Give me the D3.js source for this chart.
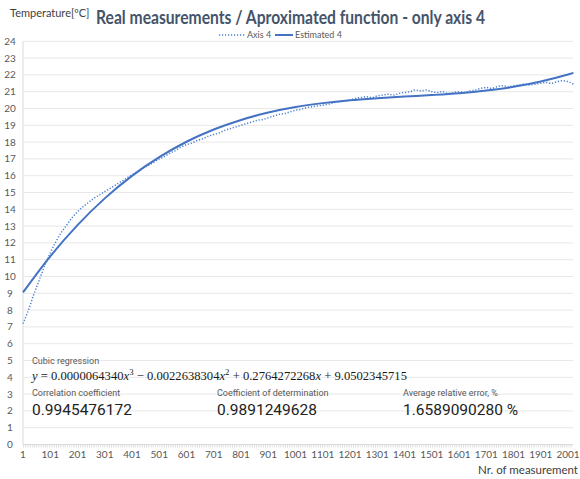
<!DOCTYPE html>
<html>
<head>
<meta charset="utf-8">
<script src="https://cdn.jsdelivr.net/npm/d3@7"></script>
<style>
  html, body { margin: 0; padding: 0; background: #fff; }
  svg { display: block; }
</style>
</head>
<body>
<svg id="chart" width="580" height="479"></svg>
<script>
// Measurement numbers sampled every 20 readings
const measuredNr = d3.range(1, 2022, 20);
// Axis 4 temperature readings [ºC]
const measuredTemp = [
  7.20, 8.00, 8.95, 9.80, 10.65, 11.40, 12.05, 12.60, 13.05, 13.50,
  13.85, 14.15, 14.40, 14.65, 14.85, 15.05, 15.25, 15.45, 15.65, 15.85,
  16.05, 16.25, 16.45, 16.60, 16.80, 17.00, 17.15, 17.35, 17.50, 17.70,
  17.85, 17.95, 18.10, 18.20, 18.35, 18.45, 18.55, 18.70, 18.80, 18.90,
  19.00, 19.10, 19.20, 19.30, 19.35, 19.45, 19.55, 19.65, 19.70, 19.80,
  19.90, 19.95, 20.05, 20.10, 20.15, 20.20, 20.25, 20.35, 20.40, 20.45,
  20.50, 20.60, 20.65, 20.70, 20.65, 20.75, 20.80, 20.85, 20.80, 20.90,
  20.95, 21.00, 21.10, 21.05, 21.10, 21.00, 20.95, 21.00, 20.90, 20.95,
  21.00, 20.95, 21.05, 21.10, 21.20, 21.25, 21.20, 21.30, 21.35, 21.30,
  21.35, 21.40, 21.45, 21.40, 21.45, 21.50, 21.55, 21.50, 21.60, 21.65,
  21.60, 21.45
];

// Estimated 4 (cubic regression curve)
const estimatedNr = [1, 101, 201, 301, 401, 501, 601, 701, 801, 901, 1001,
  1101, 1201, 1301, 1401, 1501, 1601, 1701, 1801, 1901, 2001, 2021];
const estimatedTemp = [9.05, 11.20, 13.06, 14.65, 15.99, 17.10, 18.02, 18.75,
  19.32, 19.76, 20.09, 20.32, 20.49, 20.61, 20.71, 20.80, 20.91, 21.07, 21.29,
  21.61, 22.02, 22.12];

const yTicks = d3.range(0, 25, 1);
const xTickLabels = d3.range(1, 2002, 100);

const statLabels = ["Correlation coefficient", "Coefficient of determination", "Average relative error, %"];
const statValues = ["0.9945476172", "0.9891249628", "1.6589090280 %"];

const svg = d3.select("#chart");
const plotLeft = 23, plotRight = 573, plotTop = 41.3, plotBottom = 444.5;
const uiFont = "Lato, 'Open Sans', sans-serif";

const x = d3.scaleLinear().domain([1, 2001]).range([plotLeft, 568]);
const y = d3.scaleLinear().domain([0, 24]).range([plotBottom, plotTop]);

// horizontal gridlines
svg.append("g").selectAll("line").data(yTicks.filter(d => d > 0)).join("line")
  .attr("x1", plotLeft).attr("x2", plotRight)
  .attr("y1", d => y(d)).attr("y2", d => y(d))
  .attr("stroke", "#e8e8e8").attr("stroke-width", 1);

// vertical axis line
svg.append("line").attr("x1", plotLeft).attr("x2", plotLeft).attr("y1", plotTop).attr("y2", plotBottom)
  .attr("stroke", "#d9d9d9").attr("stroke-width", 1);

// category axis with dense tick marks
svg.append("line").attr("x1", plotLeft).attr("x2", plotRight).attr("y1", plotBottom).attr("y2", plotBottom)
  .attr("stroke", "#d9d9d9").attr("stroke-width", 1);
svg.append("line").attr("x1", plotLeft).attr("x2", plotRight).attr("y1", plotBottom + 1.5).attr("y2", plotBottom + 1.5)
  .attr("stroke", "#dedede").attr("stroke-width", 3).attr("stroke-dasharray", "1,1.2");

// y tick labels
svg.append("g").selectAll("text").data(yTicks).join("text")
  .attr("x", 10).attr("y", d => y(d) + 3.5)
  .attr("text-anchor", "middle")
  .attr("font-family", uiFont).attr("font-size", 10)
  .attr("fill", "#595959")
  .text(d => d);

// x tick labels
svg.append("g").selectAll("text").data(xTickLabels).join("text")
  .attr("x", d => x(d)).attr("y", 457.5)
  .attr("text-anchor", "middle")
  .attr("font-family", uiFont).attr("font-size", 10)
  .attr("fill", "#595959")
  .text(d => d);

// axis titles
svg.append("text").attr("x", 10).attr("y", 17)
  .attr("font-family", uiFont).attr("font-size", 11)
  .attr("fill", "#404040").text("Temperature[ºC]");
svg.append("text").attr("x", 578).attr("y", 474).attr("text-anchor", "end")
  .attr("font-family", uiFont).attr("font-size", 11.5)
  .attr("fill", "#404040").text("Nr. of measurement");

// chart title
svg.append("text").attr("x", 96).attr("y", 24)
  .attr("font-family", uiFont).attr("font-weight", 700).attr("font-size", 18.5)
  .attr("textLength", 389).attr("lengthAdjust", "spacingAndGlyphs")
  .attr("fill", "#44546a").text("Real measurements / Aproximated function - only axis 4");

// legend
const lg = svg.append("g").attr("font-family", uiFont).attr("font-size", 9).attr("fill", "#595959");
lg.append("line").attr("x1", 219).attr("x2", 245).attr("y1", 35).attr("y2", 35)
  .attr("stroke", "#4a7fd0").attr("stroke-width", 1.5).attr("stroke-dasharray", "1.2,1.8");
lg.append("text").attr("x", 247).attr("y", 38).text("Axis 4");
lg.append("line").attr("x1", 275).attr("x2", 293).attr("y1", 35).attr("y2", 35)
  .attr("stroke", "#4472c4").attr("stroke-width", 2);
lg.append("text").attr("x", 295).attr("y", 38).text("Estimated 4");

// series lines
const lineGen = d3.line().x(d => x(d[0])).y(d => y(d[1])).curve(d3.curveMonotoneX);
svg.append("path")
  .datum(measuredNr.map((n, i) => [n, measuredTemp[i]]))
  .attr("d", lineGen).attr("fill", "none")
  .attr("stroke", "#4a7fd0").attr("stroke-width", 1.5).attr("stroke-dasharray", "1.2,1.8");
svg.append("path")
  .datum(estimatedNr.map((n, i) => [n, estimatedTemp[i]]))
  .attr("d", lineGen).attr("fill", "none")
  .attr("stroke", "#4472c4").attr("stroke-width", 2);

// regression summary
const info = svg.append("g").attr("font-family", "Roboto, 'Open Sans', sans-serif");
info.append("text").attr("x", 32).attr("y", 364).attr("font-size", 9).attr("fill", "#595959")
  .text("Cubic regression");

const eq = info.append("text").attr("x", 32).attr("y", 379.5)
  .attr("font-family", "'Liberation Serif', 'DejaVu Serif', serif").attr("font-size", 15)
  .attr("fill", "#1a1a1a");
const eqParts = [
  ["y", "i"], [" = 0.0000064340", ""], ["x", "i"], ["3", "s"],
  [" − 0.0022638304", ""], ["x", "i"], ["2", "s"],
  [" + 0.2764272268", ""], ["x", "i"], [" + 9.0502345715", ""]
];
let raised = false;
eqParts.forEach(([t, k]) => {
  const ts = eq.append("tspan").text(t);
  if (k === "i") ts.attr("font-style", "italic");
  if (k === "s") { ts.attr("font-size", "0.7em").attr("dy", -5); raised = true; }
  else if (raised) { ts.attr("dy", 5); raised = false; }
});
// scale the equation's font so it spans the same width as the summary row
const eqWidth = eq.node().getComputedTextLength();
if (eqWidth > 0) eq.attr("font-size", 15 * 375 / eqWidth);

const statX = [32, 217, 403];
statLabels.forEach((s, i) => {
  info.append("text").attr("x", statX[i]).attr("y", 396).attr("font-size", 9).attr("fill", "#595959").text(s);
  info.append("text").attr("x", statX[i]).attr("y", 415).attr("font-size", 15.5).attr("fill", "#222").text(statValues[i]);
});
</script>
</body>
</html>
